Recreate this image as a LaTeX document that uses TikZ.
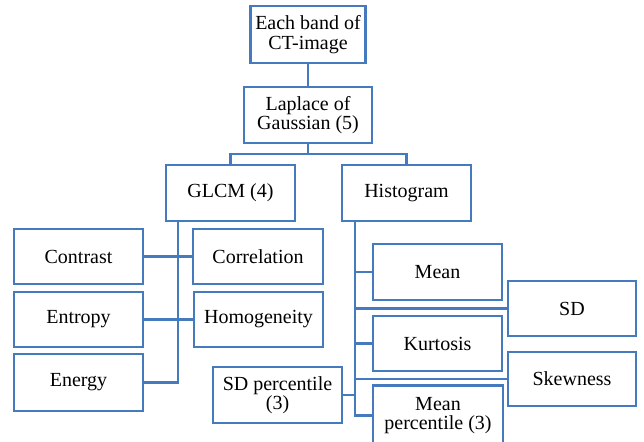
\documentclass[tikz,border=0pt]{standalone}
\usepackage{fontspec}
\setmainfont{Liberation Serif}
\definecolor{boxblue}{RGB}{70,122,190}
\begin{document}
\begin{tikzpicture}[x=1pt,y=-1pt,
  box/.style={draw=boxblue,line width=2.6pt,fill=white,align=center,inner sep=0pt,
    font=\fontsize{20}{19.5}\selectfont,text=black},
  link/.style={draw=boxblue,line width=2.4pt}]
\useasboundingbox (0,0) rectangle (644,441);
% nodes
\node[box,minimum width=115pt,minimum height=57pt] (top) at (308,34.5) {Each band of\\CT-image};
\node[box,minimum width=128pt,minimum height=56pt] (lap) at (308,115) {Laplace of\\Gaussian (5)};
\node[box,minimum width=129pt,minimum height=56pt] (glcm) at (230.5,193) {GLCM (4)};
\node[box,minimum width=129pt,minimum height=56pt] (hist) at (406.5,193) {Histogram};
\node[box,minimum width=129pt,minimum height=55pt] (contrast) at (78.5,256.5) {Contrast};
\node[box,minimum width=130pt,minimum height=55pt] (correl) at (258,256.5) {Correlation};
\node[box,minimum width=129pt,minimum height=55pt] (entropy) at (78.5,319.5) {Entropy};
\node[box,minimum width=129pt,minimum height=55pt] (homog) at (258.5,319.5) {Homogeneity};
\node[box,minimum width=129pt,minimum height=57pt] (energy) at (78.5,382.5) {Energy};
\node[box,minimum width=129pt,minimum height=56pt] (sdperc) at (277.5,395) {SD percentile\\(3)};
\node[box,minimum width=129pt,minimum height=56pt] (mean) at (437.5,272) {Mean};
\node[box,minimum width=128pt,minimum height=55pt] (sd) at (572,308.5) {SD};
\node[box,minimum width=129pt,minimum height=55pt] (kurt) at (437.5,343.5) {Kurtosis};
\node[box,minimum width=128pt,minimum height=54pt] (skew) at (572,379) {Skewness};
\node[box,minimum width=130pt,minimum height=60pt] (mperc) at (438,415.5) {Mean\\percentile (3)};
% trunk coordinates
\coordinate (bus) at (308,154);
\coordinate (gtrunk) at (178,221);
\coordinate (htrunk) at (355,221);
% connectors
\draw[link] (top.south) -- (lap.north);
\draw[link] (lap.south) -- (bus);
\draw[link] (glcm.north) |- (bus) -| (hist.north);
\draw[link] (gtrunk) |- (energy.east);
\draw[link] (contrast.east) -- (correl.west);
\draw[link] (entropy.east) -- (homog.west);
\draw[link] (htrunk) |- (mperc.west);
\draw[link] (htrunk |- mean.west) -- (mean.west);
\draw[link] (htrunk |- sd.west) -- (sd.west);
\draw[link] (htrunk |- kurt.west) -- (kurt.west);
\draw[link] (htrunk |- skew.west) -- (skew.west);
\draw[link] (sdperc.east) -- (htrunk |- sdperc.east);
\end{tikzpicture}
\end{document}
